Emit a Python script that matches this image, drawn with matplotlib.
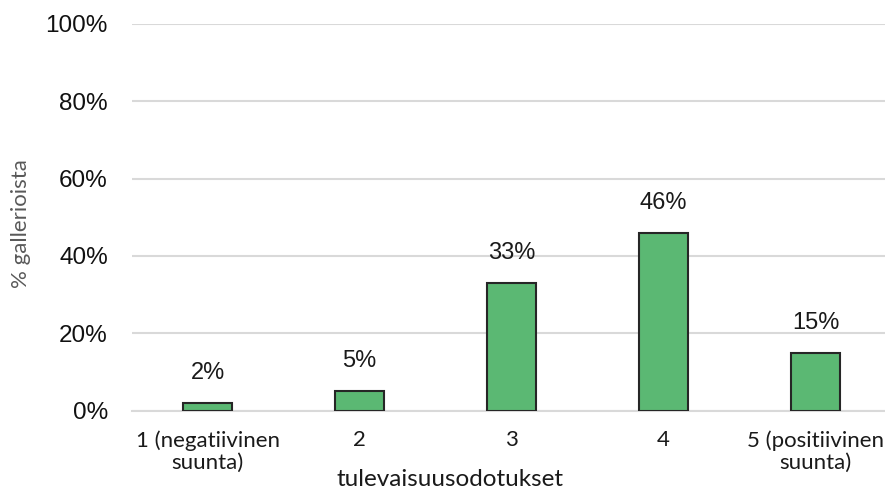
import matplotlib
matplotlib.use("Agg")
import matplotlib.pyplot as plt
import numpy as np

categories = ["1 (negatiivinen\nsuunta)", "2", "3", "4", "5 (positiivinen\nsuunta)"]
shares = [2, 5, 33, 46, 15]
value_labels = ["2%", "5%", "33%", "46%", "15%"]
y_ticks = [0, 20, 40, 60, 80, 100]

fig = plt.figure(figsize=(8.85, 4.92), dpi=100)
ax = fig.add_axes([131.5 / 885, 1 - 410.5 / 492, 760 / 885, (410.5 - 24) / 492])

x = np.arange(len(categories))
ax.bar(x, shares, width=0.32, color="#5BB873", edgecolor="#262626", linewidth=1.5, zorder=3)

for xi, v, lab in zip(x, shares, value_labels):
    ax.annotate(lab, (xi, v), xytext=(0, 13.5), textcoords="offset points",
                ha="center", va="bottom", fontsize=17, family="Liberation Sans", color="#1a1a1a")

ax.set_xlim(-0.5, len(categories) - 0.5)
ax.set_ylim(0, 100)
ax.set_yticks(y_ticks)
ax.set_yticklabels([f"{t}%" for t in y_ticks], family="Liberation Sans", fontsize=17.5, color="#111111")
ax.yaxis.grid(True, color="#d9d9d9", linewidth=1.5, zorder=0)
ax.tick_params(axis="y", length=0, pad=17)
ax.tick_params(axis="x", length=0, pad=14)
ax.set_xticks(x)
ax.set_xticklabels(categories, family="Lato", fontsize=16, color="#1a1a1a", linespacing=1.15)

for s in ["top", "right", "left"]:
    ax.spines[s].set_visible(False)
ax.spines["bottom"].set_color("#d9d9d9")
ax.spines["bottom"].set_linewidth(1.5)

fig.text(450 / 885, 1 - 479 / 492, "tulevaisuusodotukset", ha="center", va="center",
         family="Lato", fontsize=17.5, color="#1a1a1a")
fig.text(21 / 885, 1 - 224 / 492, "% gallerioista", ha="center", va="center", rotation=90,
         family="Lato", fontsize=16, color="#595959")

fig.savefig("out.png", dpi=100)
